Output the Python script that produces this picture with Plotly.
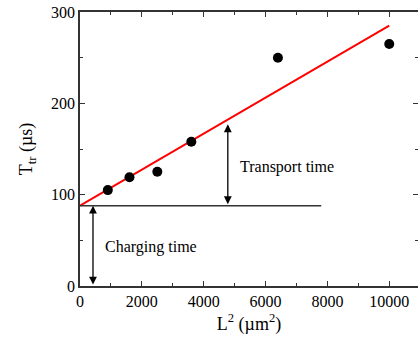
import plotly.graph_objects as go

# Data
L2 = [900, 1600, 2500, 3600, 6400, 10000]
T_tr = [105, 119, 125, 158, 250, 265]
fit_x = [0, 10000]
fit_y = [88, 285]
charge_x = [0, 7800]
charge_y = [88, 88]
transport_arrow_x = 4780
transport_arrow_y = [88, 177]
charging_arrow_x = 420
charging_arrow_y = [0, 88]
x_ticks = [0, 2000, 4000, 6000, 8000, 10000]
x_ticktext = ["0", "2000", "4000", "6000", "8000", "10000"]
y_ticks = [0, 100, 200, 300]

FONT = "Liberation Serif, Times New Roman, serif"
AX = "#333333"

fig = go.Figure()
fig.add_trace(go.Scatter(x=fit_x, y=fit_y, mode="lines",
                         line=dict(color="#ff0000", width=2), showlegend=False))
fig.add_trace(go.Scatter(x=charge_x, y=charge_y, mode="lines",
                         line=dict(color=AX, width=1.5), showlegend=False))
fig.add_trace(go.Scatter(x=L2, y=T_tr, mode="markers",
                         marker=dict(color="black", size=10), showlegend=False))

for xa, ys in [(transport_arrow_x, transport_arrow_y), (charging_arrow_x, charging_arrow_y)]:
    fig.add_annotation(x=xa, y=ys[1], ax=xa, ay=ys[0], axref="x", ayref="y",
                       xref="x", yref="y", text="", showarrow=True,
                       arrowhead=2, arrowside="end+start", arrowsize=1.2,
                       arrowwidth=1.3, arrowcolor="black", standoff=0, startstandoff=0)

fig.add_annotation(x=5100, y=130, xref="x", yref="y", text="Transport time",
                   showarrow=False, xanchor="left",
                   font=dict(family=FONT, size=16, color="black"))
fig.add_annotation(x=750, y=43, xref="x", yref="y", text="Charging time",
                   showarrow=False, xanchor="left",
                   font=dict(family=FONT, size=16, color="black"))

fig.update_layout(
    width=418, height=347,
    margin=dict(l=80, r=0, t=12, b=61),
    paper_bgcolor="white", plot_bgcolor="white",
    font=dict(family=FONT, size=16, color="black"),
    xaxis=dict(range=[0, 10930], tickvals=x_ticks, ticktext=x_ticktext, automargin=False,
               ticklabeloverflow="allow",
               ticks="inside", ticklen=5, tickwidth=1.3, tickcolor=AX,
               showline=True, linecolor=AX, linewidth=1.5, mirror="ticks",
               showgrid=False, zeroline=False,
               minor=dict(tickvals=[1000, 3000, 5000, 7000, 9000], ticks="inside",
                          ticklen=3, tickwidth=1.2, tickcolor=AX, showgrid=False),
               title=dict(text="L<sup>2</sup> (µm<sup>2</sup>)",
                          font=dict(family=FONT, size=18, color="black"), standoff=8),
               tickfont=dict(family=FONT, size=16, color="black")),
    yaxis=dict(range=[0, 300], tickvals=y_ticks, automargin=False,
               ticklabeloverflow="allow",
               ticks="inside", ticklen=5, tickwidth=1.3, tickcolor=AX,
               showline=True, linecolor=AX, linewidth=1.5, mirror="ticks",
               showgrid=False, zeroline=False,
               minor=dict(tickvals=[50, 150, 250], ticks="inside",
                          ticklen=3, tickwidth=1.2, tickcolor=AX, showgrid=False),
               title=dict(text="T<sub>tr</sub> (µs)",
                          font=dict(family=FONT, size=18, color="black"), standoff=14),
               tickfont=dict(family=FONT, size=16, color="black")),
)

fig.write_html("out.html", config={"displayModeBar": False},
               post_script="document.body.style.margin='0';")
